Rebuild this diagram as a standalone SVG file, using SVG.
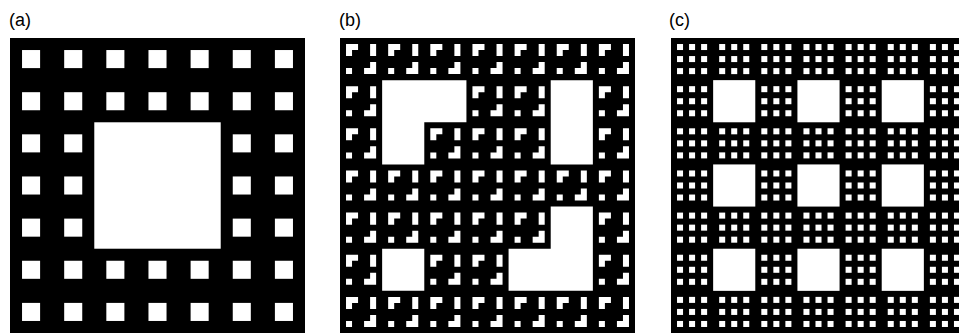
<svg xmlns="http://www.w3.org/2000/svg" xmlns:xlink="http://www.w3.org/1999/xlink" width="959" height="333" viewBox="0 0 959 333">
<style>
.bg{fill:#000}
.w{fill:#fff}
.lbl{font-family:"Liberation Sans",Arial,sans-serif;font-size:18px;fill:#000}
</style>
<defs>
<rect id="ca" class="w" x="12.041" y="12.041" width="18.061" height="18.061"/>
<path id="cb" class="w" d="M6.02 6.02H18.061V12.041H12.041V18.061H6.02Z M30.102 6.02H36.122V18.061H30.102Z M6.02 30.102H12.041V36.122H6.02Z M30.102 24.082H36.122V36.122H24.082V30.102H30.102Z"/>
<g id="cc" class="w">
<rect x="6.02" y="6.02" width="6.02" height="6.02"/><rect x="18.061" y="6.02" width="6.02" height="6.02"/><rect x="30.102" y="6.02" width="6.02" height="6.02"/>
<rect x="6.02" y="18.061" width="6.02" height="6.02"/><rect x="18.061" y="18.061" width="6.02" height="6.02"/><rect x="30.102" y="18.061" width="6.02" height="6.02"/>
<rect x="6.02" y="30.102" width="6.02" height="6.02"/><rect x="18.061" y="30.102" width="6.02" height="6.02"/><rect x="30.102" y="30.102" width="6.02" height="6.02"/>
</g>
<g id="rowa"><use href="#ca"/><use href="#ca" x="42.143"/><use href="#ca" x="84.286"/><use href="#ca" x="126.429"/><use href="#ca" x="168.571"/><use href="#ca" x="210.714"/><use href="#ca" x="252.857"/></g>
<g id="rowb"><use href="#cb"/><use href="#cb" x="42.143"/><use href="#cb" x="84.286"/><use href="#cb" x="126.429"/><use href="#cb" x="168.571"/><use href="#cb" x="210.714"/><use href="#cb" x="252.857"/></g>
<g id="rowc"><use href="#cc"/><use href="#cc" x="42.143"/><use href="#cc" x="84.286"/><use href="#cc" x="126.429"/><use href="#cc" x="168.571"/><use href="#cc" x="210.714"/><use href="#cc" x="252.857"/></g>
</defs>

<text class="lbl" x="9" y="26">(a)</text>
<text class="lbl" x="339" y="26">(b)</text>
<text class="lbl" x="669" y="26">(c)</text>

<g id="panel-a" transform="translate(10,38)">
<rect class="bg" width="295" height="295"/>
<use href="#rowa"/><use href="#rowa" y="42.143"/><use href="#rowa" y="84.286"/><use href="#rowa" y="126.429"/><use href="#rowa" y="168.571"/><use href="#rowa" y="210.714"/><use href="#rowa" y="252.857"/>
<rect class="w" x="84.286" y="84.286" width="126.429" height="126.429"/>
</g>

<g id="panel-b" transform="translate(340,38)">
<rect class="bg" width="295" height="295"/>
<use href="#rowb"/><use href="#rowb" y="42.143"/><use href="#rowb" y="84.286"/><use href="#rowb" y="126.429"/><use href="#rowb" y="168.571"/><use href="#rowb" y="210.714"/><use href="#rowb" y="252.857"/>
<path class="w" d="M42.143 42.143H126.429V84.286H84.286V126.429H42.143Z M210.714 42.143H252.857V126.429H210.714Z M42.143 210.714H84.286V252.857H42.143Z M210.714 168.571H252.857V252.857H168.571V210.714H210.714Z"/>
</g>

<g id="panel-c" transform="translate(671,38)">
<rect class="bg" width="295" height="295"/>
<use href="#rowc"/><use href="#rowc" y="42.143"/><use href="#rowc" y="84.286"/><use href="#rowc" y="126.429"/><use href="#rowc" y="168.571"/><use href="#rowc" y="210.714"/><use href="#rowc" y="252.857"/>
<g class="w">
<rect x="42.143" y="42.143" width="42.143" height="42.143"/><rect x="126.429" y="42.143" width="42.143" height="42.143"/><rect x="210.714" y="42.143" width="42.143" height="42.143"/>
<rect x="42.143" y="126.429" width="42.143" height="42.143"/><rect x="126.429" y="126.429" width="42.143" height="42.143"/><rect x="210.714" y="126.429" width="42.143" height="42.143"/>
<rect x="42.143" y="210.714" width="42.143" height="42.143"/><rect x="126.429" y="210.714" width="42.143" height="42.143"/><rect x="210.714" y="210.714" width="42.143" height="42.143"/>
</g>
</g>
</svg>
